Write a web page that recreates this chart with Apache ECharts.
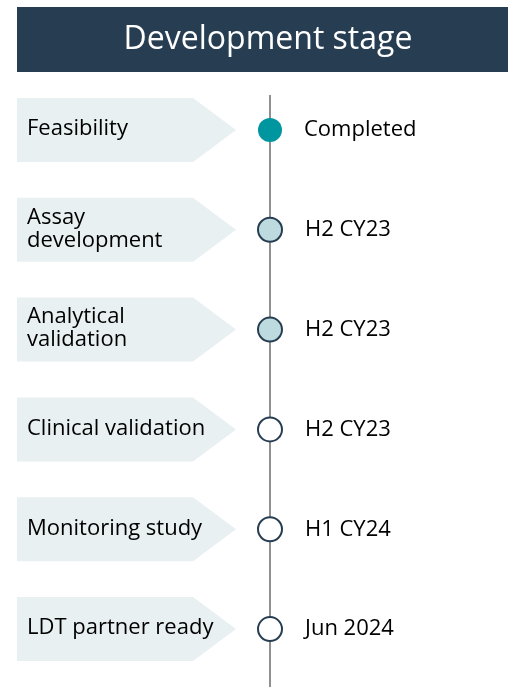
<!DOCTYPE html>
<html>
<head>
<meta charset="utf-8">
<script src="https://cdn.jsdelivr.net/npm/echarts@6/dist/echarts.min.js"></script>
<style>
    html, body { margin: 0; padding: 0; background: #fff; }
    #chart { width: 508px; height: 687px; }
</style>
</head>
<body>
<div id="chart"></div>
<script>
// Data
var stages = ['Feasibility', 'Assay\ndevelopment', 'Analytical\nvalidation', 'Clinical validation', 'Monitoring study', 'LDT partner ready'];
var timing = ['Completed', 'H2 CY23', 'H2 CY23', 'H2 CY23', 'H1 CY24', 'Jun 2024'];
// 'done' | 'progress' | 'todo'
var stageStatus = ['done', 'progress', 'progress', 'todo', 'todo', 'todo'];

var navy = '#263d52';
var teal = '#00969f';
var paleTeal = '#bddadf';
var chevronFill = '#e8f0f2';
var fontFamily = '"Open Sans", Lato, sans-serif';

var myChart = echarts.init(document.getElementById('chart'));

// Circle styles per status
function markerStyle(s) {
    if (s === 'done') {
        return { color: teal, borderWidth: 0, opacity: 1 };
    } else if (s === 'progress') {
        return { color: paleTeal, borderColor: navy, borderWidth: 2, opacity: 1 };
    }
    return { color: '#fff', borderColor: navy, borderWidth: 2, opacity: 1 };
}

var markerData = stages.map(function(name, i) {
    return {
        value: [270, i],
        itemStyle: markerStyle(stageStatus[i]),
        label: { formatter: timing[i] }
    };
});

var option = {
    animation: false,
    grid: { left: 0, right: 0, top: 80, bottom: 8 },
    xAxis: { type: 'value', min: 0, max: 508, show: false },
    yAxis: {
        type: 'category',
        data: stages,
        inverse: true,
        show: false
    },
    graphic: [
        // header bar
        {
            type: 'rect',
            shape: { x: 17, y: 7, width: 491, height: 65 },
            style: { fill: navy },
            z: 1
        },
        {
            type: 'text',
            x: 268, y: 40,
            style: {
                text: 'Development stage',
                fill: '#fff',
                font: '32px ' + fontFamily,
                textAlign: 'center',
                textVerticalAlign: 'middle'
            },
            z: 2
        },
        // timeline
        {
            type: 'line',
            shape: { x1: 270, y1: 95, x2: 270, y2: 687 },
            style: { stroke: '#6b6b6b', lineWidth: 1.5 },
            z: 0
        }
    ],
    series: [
        {
            // chevron labels
            type: 'custom',
            z: 1,
            renderItem: function(params, api) {
                var c = api.coord([0, api.value(1)]);
                var h = 64;
                var top = c[1] - h / 2;
                return {
                    type: 'group',
                    children: [
                        {
                            type: 'polygon',
                            shape: {
                                points: [
                                    [17, top], [193, top], [236, c[1]],
                                    [193, top + h], [17, top + h]
                                ]
                            },
                            style: { fill: chevronFill }
                        },
                        {
                            type: 'text',
                            x: 27, y: c[1] - 1,
                            style: {
                                text: stages[params.dataIndex],
                                fill: '#000',
                                font: '22px ' + fontFamily,
                                lineHeight: 23,
                                textVerticalAlign: 'middle'
                            }
                        }
                    ]
                };
            },
            data: stages.map(function(n, i) { return [0, i]; })
        },
        {
            type: 'scatter',
            z: 3,
            symbol: 'circle',
            symbolSize: 24,
            label: {
                show: true,
                position: 'right',
                distance: 22,
                color: '#000',
                fontSize: 22,
                fontFamily: fontFamily
            },
            data: markerData
        }
    ]
};

myChart.setOption(option);
</script>
</body>
</html>
